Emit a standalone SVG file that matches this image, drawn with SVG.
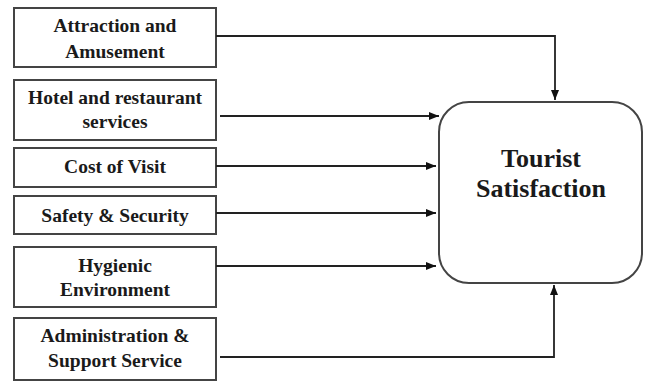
<svg xmlns="http://www.w3.org/2000/svg" width="645" height="381" viewBox="0 0 645 381">
<defs>
<marker id="ah" markerWidth="10" markerHeight="8" refX="10" refY="4" orient="auto" markerUnits="userSpaceOnUse">
<path d="M0,0 L10,4 L0,8 Z" fill="#111"/>
</marker>
<style>
.box{fill:#fff;stroke:#444;stroke-width:2}
.c{fill:none;stroke:#222;stroke-width:1.8}
</style>
</defs>
<rect width="645" height="381" fill="#fff"/>
<g font-family="Liberation Serif, Times New Roman, DejaVu Serif, serif" font-weight="bold" font-size="19.5" fill="#1a1a1a" text-anchor="middle">
<g id="n1"><rect class="box" x="14" y="8" width="202" height="59"/><text x="115" y="32">Attraction and</text><text x="115" y="58">Amusement</text></g>
<g id="n2"><rect class="box" x="14" y="80" width="202" height="60"/><text x="115" y="104">Hotel and restaurant</text><text x="115" y="128">services</text></g>
<g id="n3"><rect class="box" x="14" y="148" width="202" height="39"/><text x="115" y="173">Cost of Visit</text></g>
<g id="n4"><rect class="box" x="14" y="196" width="202" height="38"/><text x="115" y="222">Safety &amp; Security</text></g>
<g id="n5"><rect class="box" x="14" y="247" width="202" height="60"/><text x="115" y="272">Hygienic</text><text x="115" y="296">Environment</text></g>
<g id="n6"><rect class="box" x="14" y="318" width="202" height="62"/><text x="115" y="342">Administration &amp;</text><text x="115" y="367">Support Service</text></g>
<g id="target"><rect class="box" x="439" y="102" width="203" height="181" rx="30" ry="30"/><text font-size="26" x="541" y="167">Tourist</text><text font-size="26" x="541" y="197">Satisfaction</text></g>
</g>
<g id="connectors">
<path class="c" d="M216,36 H555 V100" marker-end="url(#ah)"/>
<path class="c" d="M220,116 H439" marker-end="url(#ah)"/>
<path class="c" d="M216,166 H436" marker-end="url(#ah)"/>
<path class="c" d="M216,213 H436" marker-end="url(#ah)"/>
<path class="c" d="M216,266 H436" marker-end="url(#ah)"/>
<path class="c" d="M220,357 H554 V285" marker-end="url(#ah)"/>
</g>
</svg>
